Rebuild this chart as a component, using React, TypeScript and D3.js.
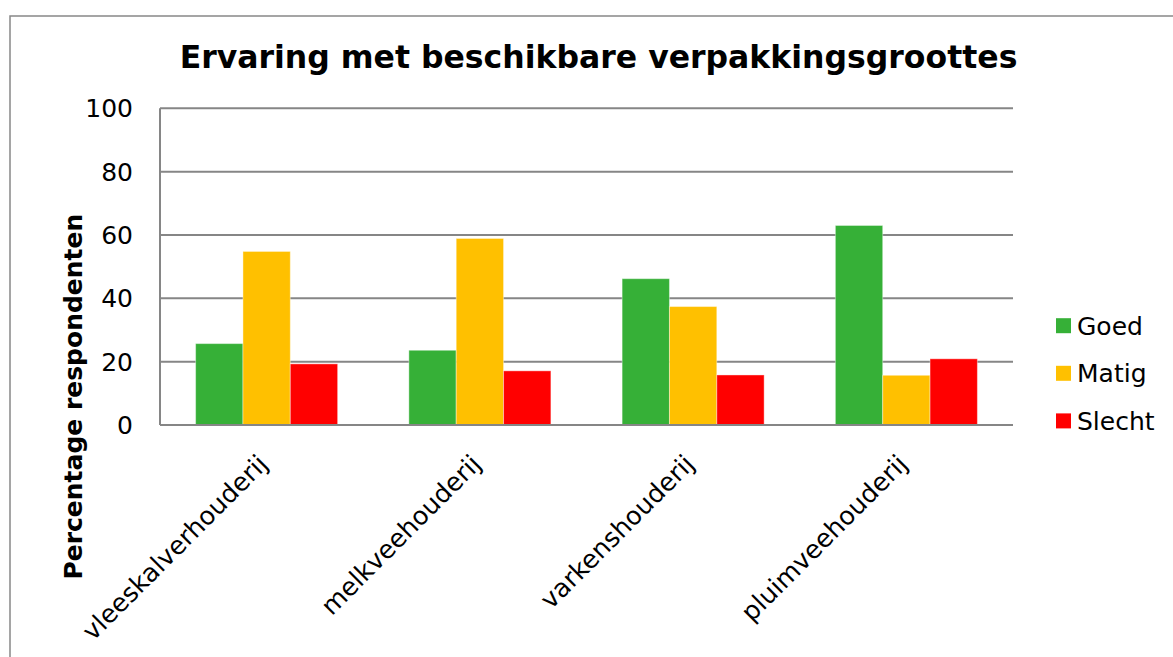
import React, { useEffect, useRef } from "react";
import * as d3 from "d3";

const title = "Ervaring met beschikbare verpakkingsgroottes";
const yLabel = "Percentage respondenten";
const categories = ["vleeskalverhouderij", "melkveehouderij", "varkenshouderij", "pluimveehouderij"];
const seriesNames = ["Goed", "Matig", "Slecht"];
const goed = [25.7, 23.6, 46.2, 63.0];
const matig = [54.8, 58.9, 37.4, 15.7];
const slecht = [19.3, 17.1, 15.8, 20.9];
const yTicks = [0, 20, 40, 60, 80, 100];
const colors = ["#36b037", "#ffc000", "#ff0000"];

const W = 1173;
const H = 657;

export default function App() {
  const ref = useRef<SVGSVGElement | null>(null);

  useEffect(() => {
    const svg = d3.select(ref.current);
    svg.selectAll("*").remove();
    const font = "'DejaVu Sans', Verdana, sans-serif";

    const plot = { left: 160, right: 1013, top: 108.3, bottom: 425 };
    const values = [goed, matig, slecht];

    // outer frame
    svg.append("rect")
      .attr("x", 10).attr("y", 16)
      .attr("width", W).attr("height", H)
      .attr("fill", "white")
      .attr("stroke", "#888").attr("stroke-width", 1.5);

    svg.append("text")
      .attr("x", 598.5).attr("y", 68)
      .attr("text-anchor", "middle")
      .attr("font-family", font).attr("font-weight", "bold")
      .attr("font-size", 31.5)
      .text(title);

    const x0 = d3.scaleBand<string>()
      .domain(categories)
      .range([plot.left, plot.right])
      .paddingInner(0.334)
      .paddingOuter(0.167);

    const x1 = d3.scaleBand<string>()
      .domain(seriesNames)
      .range([0, x0.bandwidth()]);

    const y = d3.scaleLinear().domain([0, 100]).range([plot.bottom, plot.top]);

    // gridlines
    svg.append("g").selectAll("line")
      .data(yTicks.filter(t => t > 0))
      .enter().append("line")
      .attr("x1", plot.left).attr("x2", plot.right)
      .attr("y1", d => y(d)).attr("y2", d => y(d))
      .attr("stroke", "#868686").attr("stroke-width", 2);

    // tick labels
    svg.append("g").selectAll("text")
      .data(yTicks)
      .enter().append("text")
      .attr("x", 133).attr("y", d => y(d))
      .attr("dy", "0.36em")
      .attr("text-anchor", "end")
      .attr("font-family", font).attr("font-size", 25)
      .text(d => d);

    // bars
    const groups = svg.append("g").selectAll("g")
      .data(categories)
      .enter().append("g")
      .attr("transform", d => `translate(${x0(d)},0)`);

    groups.selectAll("rect")
      .data((_, i) => seriesNames.map((s, j) => ({ s, v: values[j][i], j })))
      .enter().append("rect")
      .attr("x", d => x1(d.s)!)
      .attr("y", d => y(d.v))
      .attr("width", x1.bandwidth())
      .attr("height", d => plot.bottom - y(d.v))
      .attr("fill", d => colors[d.j])
      .attr("stroke", "rgba(255,255,255,0.4)").attr("stroke-width", 1);

    // axes lines
    svg.append("line")
      .attr("x1", plot.left).attr("x2", plot.left)
      .attr("y1", plot.top).attr("y2", plot.bottom)
      .attr("stroke", "#868686").attr("stroke-width", 2);
    svg.append("line")
      .attr("x1", plot.left).attr("x2", plot.right)
      .attr("y1", plot.bottom).attr("y2", plot.bottom)
      .attr("stroke", "#868686").attr("stroke-width", 2);

    // category labels
    svg.append("g").selectAll("text")
      .data(categories)
      .enter().append("text")
      .attr("transform", d => `translate(${x0(d)! + x0.bandwidth() / 2 - 10},${plot.bottom + 28}) rotate(-45)`)
      .attr("text-anchor", "end")
      .attr("dy", "0.7em")
      .attr("font-family", font).attr("font-size", 25.5)
      .text(d => d);

    // y label
    svg.append("text")
      .attr("transform", `translate(82,${(plot.top + plot.bottom) / 2 + 130}) rotate(-90)`)
      .attr("text-anchor", "middle")
      .attr("font-family", font).attr("font-weight", "bold")
      .attr("font-size", 25)
      .text(yLabel);

    // legend
    const lg = svg.append("g").selectAll("g")
      .data(seriesNames)
      .enter().append("g")
      .attr("transform", (_, i) => `translate(1056,${325.7 + i * 47.6})`);
    lg.append("rect")
      .attr("x", 0).attr("y", -7.5)
      .attr("width", 15).attr("height", 15)
      .attr("fill", (_, i) => colors[i]);
    lg.append("text")
      .attr("x", 21).attr("y", 0).attr("dy", "0.36em")
      .attr("font-family", font).attr("font-size", 25)
      .text(d => d);
  }, []);

  return (
    <svg ref={ref} width={W} height={H}
      style={{ position: "absolute", left: 0, top: 0, display: "block" }} />
  );
}
